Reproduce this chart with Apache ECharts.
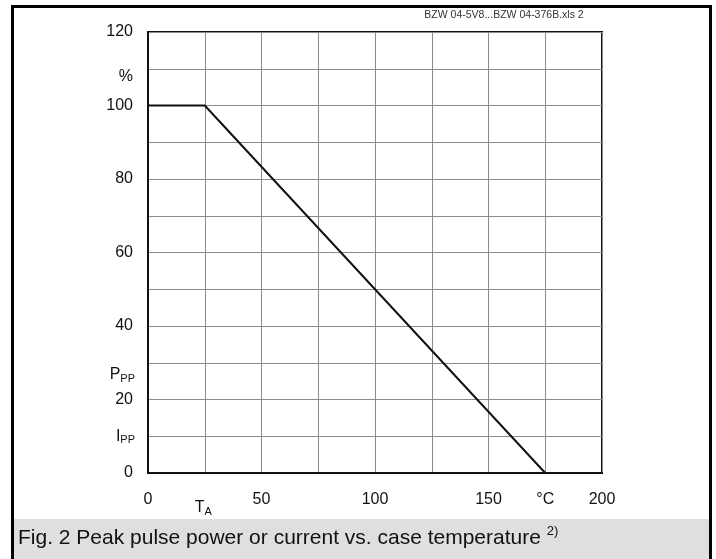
<!DOCTYPE html>
<html>
<head>
<meta charset="utf-8">
<script src="https://cdn.jsdelivr.net/npm/echarts@6/dist/echarts.min.js"></script>
<style>
html,body{margin:0;padding:0;background:#fff;}
#chart{width:716px;height:559px;}
</style>
</head>
<body>
<div id="chart"></div>
<script>
// Data
var tempValues = [0, 25, 175];          // °C
var powerValues = [100, 100, 0];        // %
var xTickLabels = {0:'0', 50:'50', 100:'100', 150:'150', 175:'°C', 200:'200'};
var yTickLabels = {0:'0', 20:'20', 40:'40', 60:'60', 80:'80', 100:'100', 120:'120'};
var headerText = 'BZW 04-5V8...BZW 04-376B.xls 2';
var captionText = 'Fig. 2 Peak pulse power or current vs. case temperature ';

var FONT = 'Liberation Sans, Arial, sans-serif';
var chart = echarts.init(document.getElementById('chart'), null, {renderer:'canvas'});

var seriesData = tempValues.map(function(t, i){ return [t, powerValues[i]]; });

chart.setOption({
  animation: false,
  grid: {left:148, right:114, top:32, bottom:86, show:true, borderColor:'#111', borderWidth:2, backgroundColor:'transparent'},
  xAxis: {
    type:'value', min:0, max:200, interval:25,
    axisLine:{show:true, lineStyle:{color:'#111', width:2}},
    axisTick:{show:false},
    splitLine:{show:true, lineStyle:{color:'#8a8a8a', width:1}},
    axisLabel:{margin:19, fontSize:16, color:'#111', fontFamily:FONT,
      formatter:function(v){ return xTickLabels[v] !== undefined ? xTickLabels[v] : ''; }}
  },
  yAxis: {
    type:'value', min:0, max:120, interval:10,
    axisLine:{show:true, lineStyle:{color:'#111', width:2}},
    axisTick:{show:false},
    splitLine:{show:true, lineStyle:{color:'#8a8a8a', width:1}},
    axisLabel:{margin:15, fontSize:16, color:'#111', fontFamily:FONT,
      formatter:function(v){ return yTickLabels[v] !== undefined ? yTickLabels[v] : ''; }}
  },
  series: [{
    type:'line', data:seriesData, symbol:'none',
    lineStyle:{color:'#111', width:2}
  }]
});

function px(x, y){ return chart.convertToPixel({gridIndex:0}, [x, y]); }
var pPct = px(0, 110), pP = px(0, 30), pI = px(0, 10), pT = px(25, 0);

chart.setOption({
  graphic: [
    // outer frame
    {type:'rect', shape:{x:12.5, y:6.5, width:698, height:560}, style:{fill:null, stroke:'#000', lineWidth:3}, z:-1},
    // caption band
    {type:'rect', shape:{x:14, y:519, width:695, height:45}, style:{fill:'#dfdfdf'}, z:0},
    {type:'text', x:18, y:538, style:{text:'{m|' + captionText + '}{s|2)}', textVerticalAlign:'middle', rich:{
      m:{fontSize:21, fontFamily:FONT, fill:'#111'},
      s:{fontSize:13, fontFamily:FONT, fill:'#111', padding:[0,0,13,0]}
    }}, z:1},
    {type:'text', x:504, y:15, style:{text:headerText, textAlign:'center', textVerticalAlign:'middle', fontSize:10.5, fontFamily:FONT, fill:'#333'}},
    {type:'text', x:133, y:pPct[1] + 8, style:{text:'%', textAlign:'right', textVerticalAlign:'middle', fontSize:16, fontFamily:FONT, fill:'#111'}},
    {type:'text', x:135, y:pP[1] + 12, style:{text:'{b|P}{s|PP}', textAlign:'right', textVerticalAlign:'middle', rich:{
      b:{fontSize:16, fontFamily:FONT, fill:'#111'}, s:{fontSize:11, fontFamily:FONT, fill:'#111', padding:[8,0,0,0]}}}},
    {type:'text', x:135, y:pI[1], style:{text:'{b|I}{s|PP}', textAlign:'right', textVerticalAlign:'middle', rich:{
      b:{fontSize:16, fontFamily:FONT, fill:'#111'}, s:{fontSize:11, fontFamily:FONT, fill:'#111', padding:[8,0,0,0]}}}},
    {type:'text', x:pT[0] - 10, y:pT[1] + 35, style:{text:'{b|T}{s|A}', textAlign:'left', textVerticalAlign:'middle', rich:{
      b:{fontSize:16, fontFamily:FONT, fill:'#111'}, s:{fontSize:11, fontFamily:FONT, fill:'#111', padding:[8,0,0,0]}}}}
  ]
});
</script>
</body>
</html>
